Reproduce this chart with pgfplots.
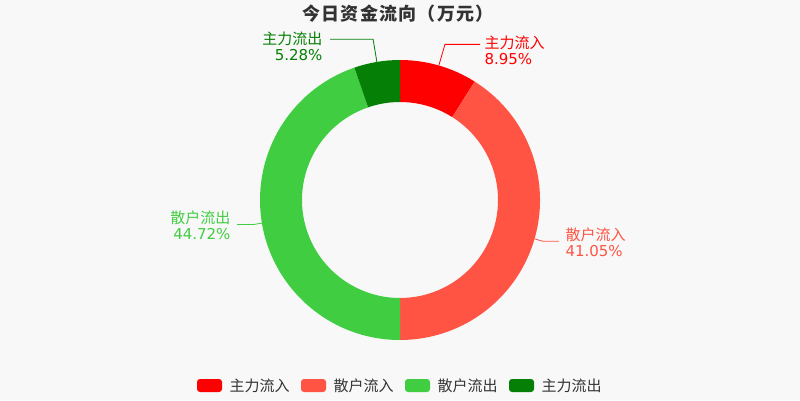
\documentclass[border=0pt]{standalone}
\usepackage{pgfplots}
\usepackage{pgfplotstable}
\pgfplotsset{compat=1.18}
\usepackage{fontspec}
\setmainfont{DejaVu Sans}
\newfontfamily\cjk{Noto Sans CJK SC}
\newfontfamily\cjktitle[LetterSpace=7]{Noto Sans CJK SC}
\definecolor{bg}{HTML}{F8F8F8}
\definecolor{mainin}{HTML}{FF0000}
\definecolor{retin}{HTML}{FF5443}
\definecolor{retout}{HTML}{41CD41}
\definecolor{mainout}{HTML}{067F06}
\definecolor{txt}{HTML}{333333}

% share of today's money flow, clockwise from 12 o'clock
\pgfplotstableread{
idx val
0 8.95
1 41.05
2 44.72
3 5.28
}\flowdata

% ring slice: start angle, end angle, colour (centre 400,200; radii 140/98)
\newcommand\donutslice[3]{%
  \fill[#3] (axis cs:{400+140*cos(#1)},{200+140*sin(#1)})
    arc[start angle=#1,end angle=#2,radius=140pt]
    -- (axis cs:{400+98*cos(#2)},{200+98*sin(#2)})
    arc[start angle=#2,end angle=#1,radius=98pt] -- cycle;}
% leader line: mid angle, elbow radius, x of end, colour
\newcommand\leader[4]{%
  \draw[#4,line width=0.8pt] (axis cs:{400+140*cos(#1)},{200+140*sin(#1)})
    -- (axis cs:{400+#2*cos(#1)},{200+#2*sin(#1)})
    -- (axis cs:{#3},{200+#2*sin(#1)});}

\begin{document}
\begin{tikzpicture}
\pgfplotstablegetelem{0}{val}\of\flowdata \let\vA\pgfplotsretval
\pgfplotstablegetelem{1}{val}\of\flowdata \let\vB\pgfplotsretval
\pgfplotstablegetelem{2}{val}\of\flowdata \let\vC\pgfplotsretval
\pgfplotstablegetelem{3}{val}\of\flowdata \let\vD\pgfplotsretval
\pgfmathsetmacro\tot{\vA+\vB+\vC+\vD}
\pgfmathsetmacro\sA{90}
\pgfmathsetmacro\sB{\sA-360*\vA/\tot}
\pgfmathsetmacro\sC{\sB-360*\vB/\tot}
\pgfmathsetmacro\sD{\sC-360*\vC/\tot}
\pgfmathsetmacro\sE{\sD-360*\vD/\tot}
\pgfmathsetmacro\mA{(\sA+\sB)/2}
\pgfmathsetmacro\mB{(\sB+\sC)/2}
\pgfmathsetmacro\mC{(\sC+\sD)/2}
\pgfmathsetmacro\mD{(\sD+\sE)/2}
\begin{axis}[
    x=1pt, y=1pt,
    xmin=0, xmax=800, ymin=0, ymax=400,
    hide axis, clip=false,
]
\fill[bg] (axis cs:0,0) rectangle (axis cs:800,400);

\donutslice{\sA}{\sB}{mainin}
\donutslice{\sB}{\sC}{retin}
\donutslice{\sC}{\sD}{retout}
\donutslice{\sD}{\sE}{mainout}

\leader{\mA}{162}{480}{mainin}
\leader{\mB}{149}{559}{retin}
\leader{\mC}{148}{237}{retout}
\leader{\mD}{163}{330}{mainout}

\node[anchor=west,align=left,text=mainin,font=\fontsize{15}{16}\selectfont]
  at (axis cs:481,350) {{\cjk 主力流入}\\8.95\%};
\node[anchor=west,align=left,text=retin,font=\fontsize{15}{16}\selectfont]
  at (axis cs:562,158) {{\cjk 散户流入}\\41.05\%};
\node[anchor=east,align=right,text=retout,font=\fontsize{15}{16}\selectfont]
  at (axis cs:234,175) {{\cjk 散户流出}\\44.72\%};
\node[anchor=east,align=right,text=mainout,font=\fontsize{15}{16}\selectfont]
  at (axis cs:326,354) {{\cjk 主力流出}\\5.28\%};

\node[text=txt,font=\cjktitle\bfseries\fontsize{18}{20}\selectfont]
  at (axis cs:398,386.5) {今日资金流向（万元）};

% legend
\fill[mainin,rounded corners=3pt] (axis cs:197,8) rectangle (axis cs:222,21);
\node[anchor=west,text=txt,font=\cjk\fontsize{15}{18}\selectfont] at (axis cs:226,14.5) {主力流入};
\fill[retin,rounded corners=3pt] (axis cs:301,8) rectangle (axis cs:326,21);
\node[anchor=west,text=txt,font=\cjk\fontsize{15}{18}\selectfont] at (axis cs:330,14.5) {散户流入};
\fill[retout,rounded corners=3pt] (axis cs:405,8) rectangle (axis cs:430,21);
\node[anchor=west,text=txt,font=\cjk\fontsize{15}{18}\selectfont] at (axis cs:434,14.5) {散户流出};
\fill[mainout,rounded corners=3pt] (axis cs:509,8) rectangle (axis cs:534,21);
\node[anchor=west,text=txt,font=\cjk\fontsize{15}{18}\selectfont] at (axis cs:538,14.5) {主力流出};
\end{axis}
\end{tikzpicture}
\end{document}
